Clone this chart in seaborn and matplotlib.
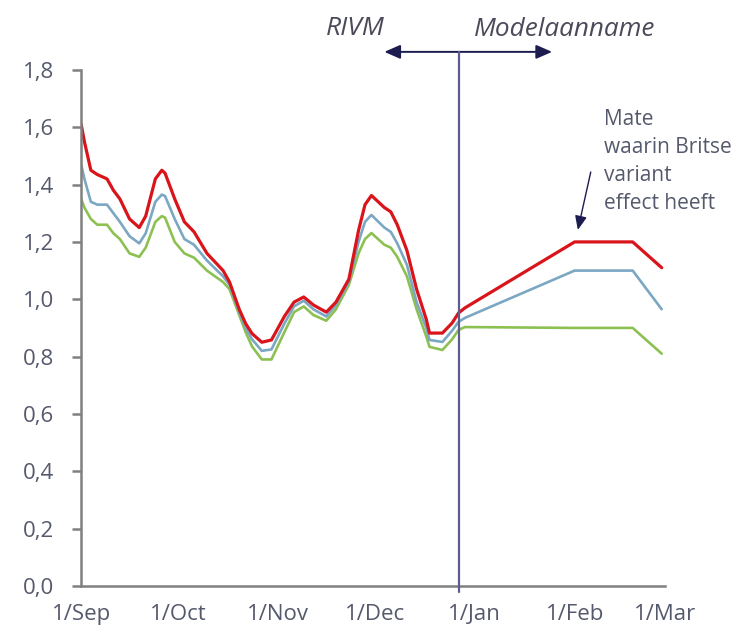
import pandas as pd
import matplotlib.pyplot as plt
import seaborn as sns

# Data: reproductiegetal per scenario
datums = ["2020-09-01", "2020-09-02", "2020-09-04", "2020-09-06", "2020-09-09",
          "2020-09-11", "2020-09-13", "2020-09-16", "2020-09-19", "2020-09-21",
          "2020-09-24", "2020-09-26", "2020-09-27", "2020-09-30", "2020-10-03",
          "2020-10-06", "2020-10-10", "2020-10-15", "2020-10-17", "2020-10-20",
          "2020-10-22", "2020-10-24", "2020-10-27", "2020-10-30", "2020-11-03",
          "2020-11-06", "2020-11-09", "2020-11-12", "2020-11-16", "2020-11-19",
          "2020-11-23", "2020-11-26", "2020-11-28", "2020-11-30", "2020-12-04",
          "2020-12-06", "2020-12-08", "2020-12-11", "2020-12-14", "2020-12-17",
          "2020-12-18", "2020-12-22", "2020-12-25", "2020-12-27", "2020-12-29",
          "2021-02-01", "2021-02-19", "2021-02-28"]
rood = [1.61, 1.55, 1.45, 1.435, 1.42, 1.38, 1.35, 1.28, 1.25, 1.29,
        1.42, 1.45, 1.44, 1.35, 1.27, 1.235, 1.16, 1.10, 1.06, 0.965,
        0.915, 0.88, 0.85, 0.858, 0.94, 0.99, 1.008, 0.98, 0.955, 0.99,
        1.07, 1.24, 1.33, 1.362, 1.32, 1.305, 1.26, 1.17, 1.035, 0.93,
        0.882, 0.882, 0.917, 0.952, 0.97, 1.20, 1.20, 1.11]
blauw = [1.47, 1.42, 1.34, 1.33, 1.33, 1.30, 1.27, 1.22, 1.195, 1.23,
         1.34, 1.365, 1.36, 1.28, 1.21, 1.19, 1.135, 1.08, 1.05, 0.955,
         0.90, 0.86, 0.82, 0.825, 0.915, 0.975, 0.995, 0.965, 0.94, 0.98,
         1.06, 1.20, 1.27, 1.294, 1.25, 1.235, 1.195, 1.12, 0.99, 0.90,
         0.858, 0.851, 0.89, 0.921, 0.935, 1.10, 1.10, 0.965]
groen = [1.35, 1.32, 1.28, 1.26, 1.26, 1.23, 1.21, 1.16, 1.148, 1.18,
         1.27, 1.29, 1.285, 1.20, 1.16, 1.145, 1.10, 1.06, 1.035, 0.945,
         0.885, 0.835, 0.79, 0.79, 0.885, 0.955, 0.975, 0.945, 0.925, 0.965,
         1.05, 1.16, 1.21, 1.231, 1.19, 1.18, 1.148, 1.08, 0.965, 0.87,
         0.834, 0.823, 0.86, 0.893, 0.903, 0.90, 0.90, 0.81]

maand_ticks = ["2020-09-01", "2020-10-01", "2020-11-01", "2020-12-01",
               "2021-01-01", "2021-02-01", "2021-03-01"]
maand_labels = ["1/Sep", "1/Oct", "1/Nov", "1/Dec", "1/Jan", "1/Feb", "1/Mar"]
y_ticks = [0.0, 0.2, 0.4, 0.6, 0.8, 1.0, 1.2, 1.4, 1.6, 1.8]
y_labels = ["0,0", "0,2", "0,4", "0,6", "0,8", "1,0", "1,2", "1,4", "1,6", "1,8"]

df = pd.DataFrame({"datum": pd.to_datetime(datums), "rood": rood,
                   "blauw": blauw, "groen": groen})

sns.set_theme(style="white")
plt.rcParams["font.family"] = ["Open Sans", "DejaVu Sans"]

fig = plt.figure(figsize=(7.38, 6.30), dpi=100)
ax = fig.add_axes([0.110, 0.070, 0.791, 0.819])

sns.lineplot(data=df, x="datum", y="groen", color="#8CC152", linewidth=1.9, ax=ax)
sns.lineplot(data=df, x="datum", y="blauw", color="#7BA7C3", linewidth=1.9, ax=ax)
sns.lineplot(data=df, x="datum", y="rood", color="#D9141B", linewidth=2.3, ax=ax)

ax.set_xlim(pd.Timestamp("2020-09-01"), pd.Timestamp("2021-03-01"))
ax.set_ylim(0, 1.8)
ax.set_xticks(pd.to_datetime(maand_ticks))
ax.set_xticklabels(maand_labels)
ax.set_yticks(y_ticks)
ax.set_yticklabels(y_labels)
ax.set_xlabel("")
ax.set_ylabel("")

sns.despine(ax=ax)
for s in ["left", "bottom"]:
    ax.spines[s].set_color("#808080")
    ax.spines[s].set_linewidth(1.8)
ax.tick_params(axis="y", left=True, length=6.5, width=1.8, color="#808080",
               labelsize=16, labelcolor="#55596c", pad=13)
ax.tick_params(axis="x", bottom=False, labelsize=16, labelcolor="#55596c", pad=7)

# scheiding RIVM / modelaanname
grens = pd.Timestamp("2020-12-27")
ax.plot([grens, grens], [-0.02, 1.863], color="#5c5c8e", linewidth=1.6,
        clip_on=False, zorder=5)
for eind in ["2020-12-04", "2021-01-25"]:
    ax.annotate("", xy=(pd.Timestamp(eind), 1.863), xytext=(grens, 1.863),
                annotation_clip=False,
                arrowprops=dict(arrowstyle="-|>,head_length=0.8,head_width=0.35",
                                color="#1c1c50", linewidth=1.4, shrinkA=0, shrinkB=0))
ax.text(pd.Timestamp("2020-11-25"), 1.945, "RIVM", fontsize=19, style="italic",
        color="#4a4a5a", ha="center", va="center")
ax.text(pd.Timestamp("2021-01-29"), 1.940, "Modelaanname", fontsize=18.8,
        style="italic", color="#4a4a5a", ha="center", va="center")

ax.text(pd.Timestamp("2021-02-10"), 1.662, "Mate\nwaarin Britse\nvariant\neffect heeft",
        fontsize=15, color="#55596c", ha="left", va="top", linespacing=1.42)
ax.annotate("", xy=(pd.Timestamp("2021-02-02"), 1.242),
            xytext=(pd.Timestamp("2021-02-06"), 1.444),
            arrowprops=dict(arrowstyle="-|>,head_length=0.7,head_width=0.3",
                            color="#1c1c50", linewidth=1.0, shrinkA=0, shrinkB=0))

plt.savefig("out.png", dpi=100)
